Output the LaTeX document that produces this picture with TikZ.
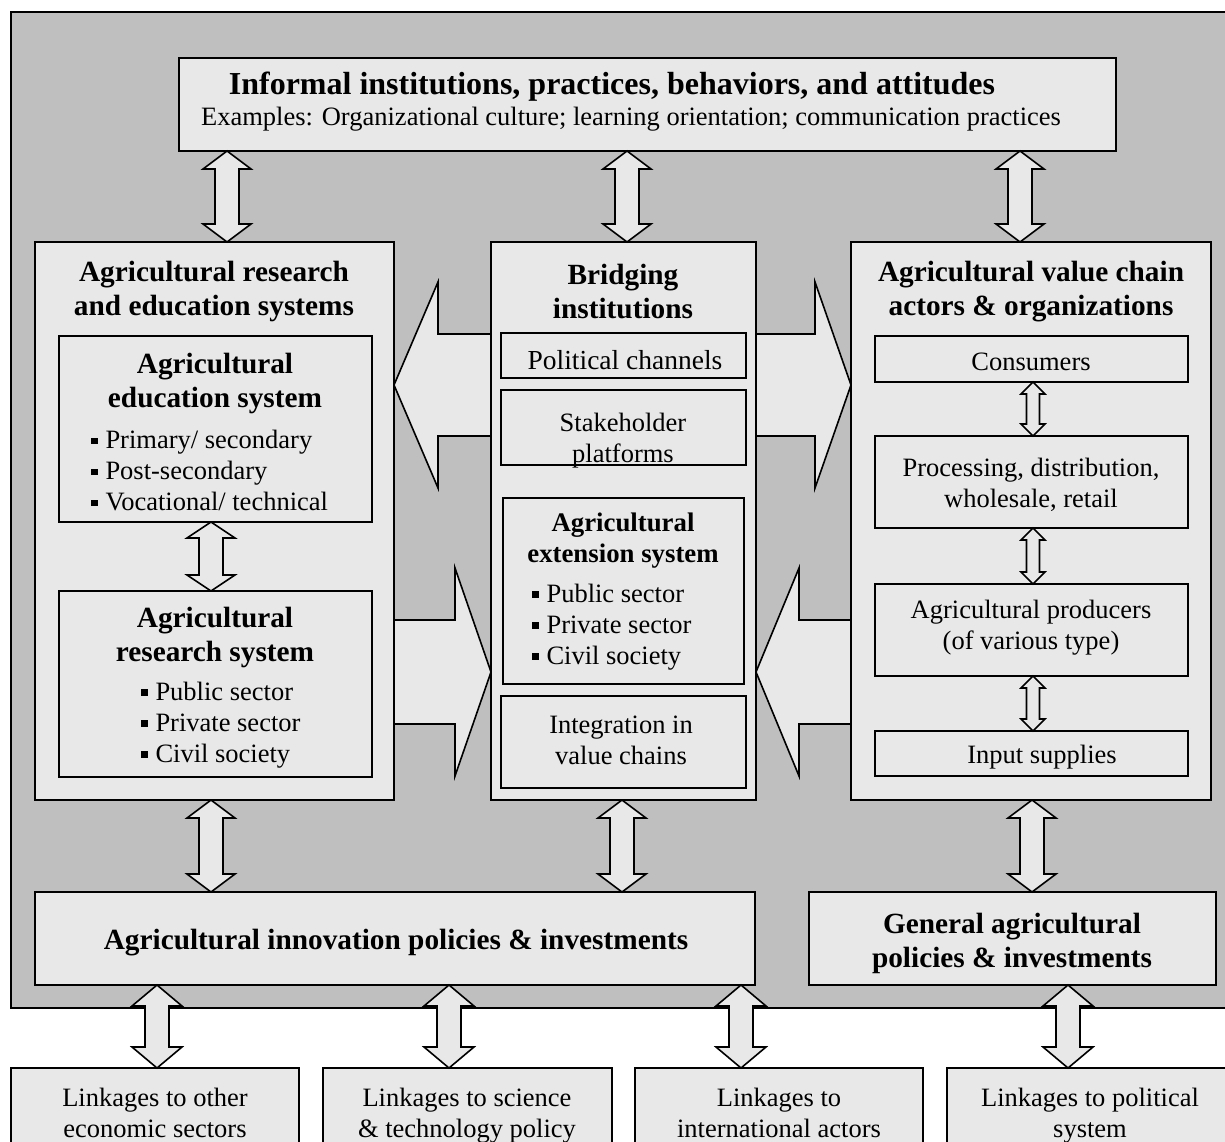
\documentclass[tikz,border=0pt]{standalone}
\usepackage{fontspec}
\setmainfont{Liberation Serif}
\usetikzlibrary{calc}
\definecolor{bggray}{RGB}{191,191,191}
\definecolor{boxgray}{RGB}{232,232,232}
\newcommand\sqb{\rule[0.17em]{0.24em}{0.24em}\hspace{0.3em}}
% box: name, x1, y1, x2, y2
\newcommand\mkbox[5]{\node[box,anchor=north west,minimum width={#4pt-#2pt},minimum height={#5pt-#3pt}] (#1) at (#2,#3) {};}
% vertical double arrow: head half width, shaft half width, head length, top point, bottom point
\newcommand\vdarr[5]{\path[arr] let \p1=#4, \p2=#5 in
  (\x1,\y1) -- (\x1+#1pt,\y1-#3pt) -- (\x1+#2pt,\y1-#3pt) -- (\x1+#2pt,\y2+#3pt) -- (\x1+#1pt,\y2+#3pt)
  -- (\x1,\y2) -- (\x1-#1pt,\y2+#3pt) -- (\x1-#2pt,\y2+#3pt) -- (\x1-#2pt,\y1-#3pt) -- (\x1-#1pt,\y1-#3pt) -- cycle;}
% horizontal block arrow: head half, shaft half, head length, tip, tail
\newcommand\hbarr[5]{\path[arr] let \p1=#4, \p2=#5, \n1={ifthenelse(\x2>\x1,1,-1)} in
  (\x1,\y1) -- (\x1+\n1*#3pt,\y1+#1pt) -- (\x1+\n1*#3pt,\y1+#2pt) -- (\x2,\y1+#2pt)
  -- (\x2,\y1-#2pt) -- (\x1+\n1*#3pt,\y1-#2pt) -- (\x1+\n1*#3pt,\y1-#1pt) -- cycle;}
\begin{document}
\begin{tikzpicture}[x=1pt,y=-1pt,
  box/.style={draw=black,line width=1.6pt,fill=boxgray,inner sep=0pt,outer sep=0pt},
  arr/.style={draw=black,line width=1.6pt,fill=boxgray,line join=miter},
  txt/.style={font=\fontsize{26.5}{31}\selectfont,align=center,inner sep=0pt},
  btxt/.style={font=\fontsize{29.3}{34}\selectfont\bfseries,align=center,inner sep=0pt},
  ltxt/.style={font=\fontsize{26.5}{31}\selectfont,align=left,inner sep=0pt,anchor=west}]
\clip (0,0) rectangle (1225,1142);
\path[fill=white] (0,0) rectangle (1225,1142);
% background panel
\path[fill=bggray,draw=black,line width=2.2pt] (11,12) rectangle (1250,1008);

% boxes
\mkbox{top}{179}{58}{1116}{151}
\mkbox{leftb}{35}{242}{394}{800}
\mkbox{midb}{491}{242}{756}{800}
\mkbox{rightb}{851}{242}{1211}{800}
\mkbox{edu}{59}{336}{372}{522}
\mkbox{res}{59}{591}{372}{777}
\mkbox{pol}{501}{333}{746}{378}
\mkbox{stk}{501}{390}{746}{465}
\mkbox{ext}{503}{498}{744}{684}
\mkbox{integ}{501}{696}{746}{788}
\mkbox{cons}{875}{336}{1188}{382}
\mkbox{proc}{875}{436}{1188}{528}
\mkbox{prod}{875}{584}{1188}{676}
\mkbox{inp}{875}{731}{1188}{776}
\mkbox{aip}{35}{892}{755}{985}
\mkbox{gap}{809}{892}{1216}{985}
\mkbox{lk1}{11}{1068}{299}{1170}
\mkbox{lk2}{323}{1068}{612}{1170}
\mkbox{lk3}{635}{1068}{923}{1170}
\mkbox{lk4}{947}{1068}{1240}{1170}

% x positions of vertical arrows, y positions of block arrows
\coordinate (xa) at (227,0);
\coordinate (xb) at (627,0);
\coordinate (xc) at (1020,0);
\coordinate (xd) at (211,0);
\coordinate (xe) at (622,0);
\coordinate (xf) at (1032,0);
\coordinate (xg) at (1033,0);
\coordinate (xh) at (157,0);
\coordinate (xi) at (449,0);
\coordinate (xj) at (741,0);
\coordinate (xk) at (1068,0);
\coordinate (yU) at (0,385);
\coordinate (yL) at (0,672);

% vertical double arrows
\vdarr{24}{12}{18}{(top.south -| xa)}{(leftb.north -| xa)}
\vdarr{24}{12}{18}{(top.south -| xb)}{(midb.north -| xb)}
\vdarr{24}{12}{18}{(top.south -| xc)}{(rightb.north -| xc)}
\vdarr{24}{12}{18}{(leftb.south -| xd)}{(aip.north -| xd)}
\vdarr{24}{12}{18}{(midb.south -| xe)}{(aip.north -| xe)}
\vdarr{24}{12}{18}{(rightb.south -| xf)}{(gap.north -| xf)}
\vdarr{24}{12}{16}{(edu.south -| xd)}{(res.north -| xd)}
\vdarr{12}{6.5}{12}{(cons.south -| xg)}{(proc.north -| xg)}
\vdarr{12}{6.5}{12}{(proc.south -| xg)}{(prod.north -| xg)}
\vdarr{12}{6.5}{12}{(prod.south -| xg)}{(inp.north -| xg)}
\vdarr{25}{12}{21}{(aip.south -| xh)}{(lk1.north -| xh)}
\vdarr{25}{12}{21}{(aip.south -| xi)}{(lk2.north -| xi)}
\vdarr{25}{12}{21}{(aip.south -| xj)}{(lk3.north -| xj)}
\vdarr{25}{12}{21}{(gap.south -| xk)}{(lk4.north -| xk)}

% block arrows
\hbarr{103}{51}{44}{(leftb.east |- yU)}{(midb.west |- yU)}
\hbarr{103}{51}{36}{(rightb.west |- yU)}{(midb.east |- yU)}
\hbarr{104}{52}{36}{(midb.west |- yL)}{(leftb.east |- yL)}
\hbarr{104}{52}{43}{(midb.east |- yL)}{(rightb.west |- yL)}

% texts
\node[btxt,font=\fontsize{32}{36}\selectfont\bfseries] (t1) at (612,87) {Informal institutions, practices, behaviors, and attitudes};
\node[txt] (t2) at (631,119) {Examples: Organizational culture; learning orientation; communication practices};
\node[btxt] (t3) at (214,291) {Agricultural research\\and education systems};
\node[btxt] (t4) at (215,383) {Agricultural\\education system};
\node[ltxt] (t5) at (91,471) {\sqb Primary/ secondary\\\sqb Post-secondary\\\sqb Vocational/ technical};
\node[btxt] (t6) at (215,637) {Agricultural\\research system};
\node[ltxt] (t7) at (141,725) {\sqb Public sector\\\sqb Private sector\\\sqb Civil society};
\node[btxt] (t8) at (623,292) {Bridging\\institutions};
\node[txt,font=\fontsize{27.5}{31}\selectfont] (t9) at (625,360) {Political channels};
\node[txt] (t10) at (623,441) {Stakeholder\\platforms};
\node[btxt,font=\fontsize{26.8}{31}\selectfont\bfseries] (t11) at (623,541) {Agricultural\\extension system};
\node[ltxt] (t12) at (532,627) {\sqb Public sector\\\sqb Private sector\\\sqb Civil society};
\node[txt] (t13) at (621,740) {Integration in\\value chains};
\node[btxt] (t14) at (1031,292) {Agricultural value chain\\actors \& organizations};
\node[txt] (t15) at (1031,362) {Consumers};
\node[txt] (t16) at (1031,485) {Processing, distribution,\\wholesale, retail};
\node[txt] (t17) at (1031,628) {Agricultural producers\\(of various type)};
\node[txt] (t18) at (1042,757) {Input supplies};
\node[btxt] (t19) at (396,943) {Agricultural innovation policies \& investments};
\node[btxt] (t20) at (1012,943) {General agricultural\\policies \& investments};
\node[txt] (t21) at (155,1113) {Linkages to other\\economic sectors};
\node[txt] (t22) at (467,1116) {Linkages to science\\\& technology policy};
\node[txt] (t23) at (779,1113) {Linkages to\\international actors};
\node[txt] (t24) at (1090,1116) {Linkages to political\\system};
\end{tikzpicture}
\end{document}
